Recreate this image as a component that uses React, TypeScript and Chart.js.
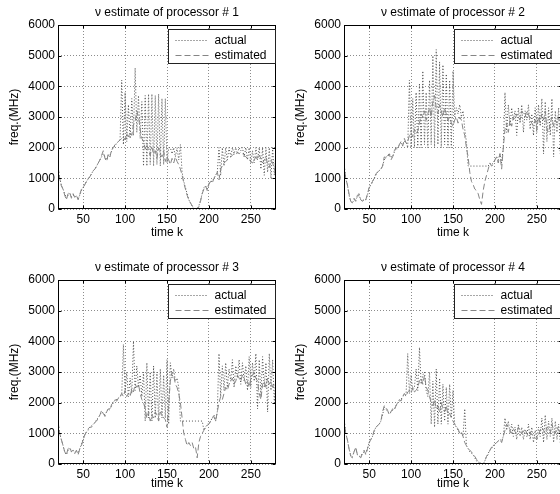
import React, { useEffect, useRef } from "react";
import { Chart, registerables } from "chart.js";

Chart.register(...registerables);

const K = [
  20, 22, 24, 26, 28, 30, 32, 34, 36, 38, 40, 42, 44, 46, 48, 50,
  52, 54, 56, 58, 60, 62, 64, 66, 68, 70, 72, 74, 76, 78, 80, 82,
  84, 86, 88, 90, 92, 94, 96, 98, 100, 102, 104, 106, 108, 110, 112, 114,
  116, 118, 120, 122, 124, 126, 128, 130, 132, 134, 136, 138, 140, 142, 144, 146,
  148, 150, 152, 154, 156, 158, 160, 162, 164, 166, 168, 170, 172, 174, 176, 178,
  180, 182, 184, 186, 188, 190, 192, 194, 196, 198, 200, 202, 204, 206, 208, 210,
  212, 214, 216, 218, 220, 222, 224, 226, 228, 230, 232, 234, 236, 238, 240, 242,
  244, 246, 248, 250, 252, 254, 256, 258, 260, 262, 264, 266, 268, 270, 272, 274,
  276, 278, 280,
];

const X_TICKS = [50, 100, 150, 200, 250];
const Y_TICKS = [0, 1000, 2000, 3000, 4000, 5000, 6000];

const TITLES = [
  "ν estimate of processor # 1",
  "ν estimate of processor # 2",
  "ν estimate of processor # 3",
  "ν estimate of processor # 4",
];
const SERIES_LABELS = ["actual", "estimated"];
const X_LABEL = "time k";
const Y_LABEL = "freq.(MHz)";

const ACTUAL_1 = [
  1400, 1000, 800, 650, 500, 350, 450, 500, 400, 450, 400, 420, 350, 450, 600, 700,
  800, 900, 980, 1050, 1150, 1250, 1300, 1400, 1500, 1600, 1700, 1800, 1700, 1600, 1750, 1750,
  1900, 2000, 2050, 2150, 2200, 2250, 4200, 2100, 3800, 2200, 3400, 2300, 3600, 2400, 4600, 2500,
  3700, 2300, 3500, 1400, 3700, 1400, 3750, 1450, 3750, 1400, 3700, 1450, 3750, 1400, 3600, 1450,
  3600, 1500, 2000, 2000, 1800, 2000, 1700, 2000, 1600, 2100, 1200, 900, 700, 500, 300, 200,
  100, 0, 0, 0, 100, 300, 500, 700, 750, 650, 850, 900, 900, 1000, 1100, 1200,
  2000, 1100, 2000, 1400, 2000, 1600, 2000, 1700, 2000, 1800, 2000, 1800, 2000, 1900, 2000, 1700,
  2000, 1600, 2000, 1500, 1900, 1500, 2000, 1600, 2000, 1300, 2000, 1100, 2000, 1200, 2000, 1000,
  2000, 1100, 1900,
];
const ESTIMATED_1 = [
  1400, 1000, 750, 650, 450, 300, 500, 550, 350, 500, 380, 450, 300, 480, 650, 700,
  800, 900, 1000, 1050, 1150, 1250, 1300, 1400, 1500, 1600, 1750, 1900, 1650, 1550, 1800, 1700,
  1950, 2000, 2100, 2150, 2200, 2250, 2300, 2350, 2250, 2450, 2350, 2500, 2400, 2750, 2850, 3200,
  3000, 2600, 2300, 2200, 1950, 2100, 1900, 1750, 2000, 1800, 1900, 1650, 2000, 1800, 1700, 1900,
  1550, 1700, 1600, 1450, 1650, 1500, 1700, 1550, 1450, 1300, 1100, 850, 650, 450, 300, 200,
  100, 30, 0, 0, 80, 250, 500, 650, 750, 600, 800, 900, 850, 1000, 1100, 1200,
  950, 1300, 1400, 1500, 1550, 1600, 1650, 1700, 1750, 1800, 1750, 1850, 1800, 1850, 1800, 1750,
  1700, 1650, 1600, 1550, 1500, 1600, 1700, 1600, 1750, 1650, 1500, 1600, 1700, 1450, 1350, 1600,
  1500, 1300, 1200,
];

const ACTUAL_2 = [
  1500, 1000, 800, 450, 250, 200, 300, 300, 400, 450, 300, 250, 300, 300, 450, 700,
  800, 900, 1000, 1100, 1200, 1250, 1300, 1400, 1600, 1700, 1700, 1800, 1700, 1700, 1850, 1950,
  2000, 2100, 2150, 2100, 2200, 2200, 2000, 4200, 2000, 3600, 2000, 3800, 2000, 4100, 2000, 4500,
  2100, 3800, 2000, 4200, 2100, 5000, 2000, 5200, 2100, 4800, 2000, 4700, 2100, 4400, 2000, 4200,
  2000, 4500, 3000, 3300, 3100, 3400, 3000, 3200, 2600, 2200, 1400, 1400, 1400, 1400, 1400, 1400,
  1400, 1400, 1400, 1400, 1400, 1400, 1400, 1500, 1450, 1500, 1600, 1700, 1600, 1800, 1500, 2000,
  3800, 2500, 3400, 2700, 3300, 2900, 3200, 2400, 3300, 2800, 3400, 2500, 3200, 2900, 3400, 2600,
  3100, 2400, 3300, 2500, 3400, 2700, 3600, 1800, 3500, 2200, 3300, 2400, 3600, 1700, 3200, 2500,
  3300, 1800, 3000,
];
const ESTIMATED_2 = [
  1500, 1000, 800, 500, 250, 200, 350, 250, 450, 500, 300, 250, 350, 300, 500, 700,
  750, 900, 1000, 1150, 1200, 1250, 1300, 1400, 1700, 1650, 1750, 1800, 1600, 1700, 1900, 2000,
  1950, 2100, 2200, 2050, 2300, 2150, 2200, 2400, 2500, 2350, 2600, 2450, 2550, 2800, 3100, 3000,
  3200, 2900, 3100, 3300, 3000, 3500, 3700, 3300, 3100, 3400, 3200, 3000, 3300, 3100, 2900, 3000,
  2800, 2700, 2900, 3000, 2800, 3000, 2900, 2600, 2400, 2000, 1700, 1200, 900, 800, 650, 600,
  500, 300, 150, 600, 900, 1100, 1300, 1500, 1400, 1450, 1600, 1700, 1500, 1800, 1300, 2000,
  2600, 2800, 2500, 2900, 2700, 3000, 2900, 3100, 3000, 2900, 3200, 3100, 3000, 3200, 3100, 2900,
  2800, 2700, 2900, 2600, 3000, 2800, 3100, 2900, 3200, 2600, 2500, 2800, 3000, 2700, 2900, 2800,
  3000, 2700, 2900,
];

const ACTUAL_3 = [
  1400, 1000, 800, 600, 400, 300, 450, 500, 400, 450, 350, 400, 350, 500, 650, 800,
  950, 1050, 1100, 1200, 1250, 1300, 1350, 1450, 1500, 1600, 1700, 1650, 1600, 1700, 1800, 1800,
  1900, 2000, 2100, 2100, 2150, 2200, 2250, 3900, 2300, 3000, 2200, 2800, 2300, 4000, 2400, 3200,
  2500, 2900, 2200, 3000, 1400, 3300, 1500, 3000, 1400, 3200, 1500, 3000, 1400, 3100, 1500, 2900,
  1500, 3400, 1300, 3300, 2800, 3100, 2700, 2800, 2500, 1400, 1400, 1400, 1400, 1400, 1400, 1400,
  1400, 1400, 1400, 1400, 1400, 1400, 1400, 1100, 1200, 1300, 1300, 1400, 1500, 1600, 1400, 1700,
  3600, 2200, 3200, 2400, 3300, 2500, 3100, 2700, 3400, 2500, 3200, 2800, 3400, 2600, 3300, 2700,
  3200, 2400, 3500, 2500, 3300, 2700, 3600, 1800, 3400, 2200, 3500, 2500, 3300, 1700, 3600, 2400,
  3400, 2000, 3000,
];
const ESTIMATED_3 = [
  1400, 1000, 800, 600, 400, 300, 500, 550, 400, 450, 350, 450, 300, 500, 600, 800,
  950, 1050, 1150, 1200, 1200, 1300, 1350, 1400, 1500, 1600, 1750, 1650, 1550, 1700, 1800, 1750,
  1950, 2000, 2100, 2050, 2150, 2200, 2300, 2200, 2400, 2200, 2300, 2200, 2450, 2350, 2600, 2500,
  2600, 2300, 2100, 2000, 1800, 1500, 1700, 1400, 1600, 1500, 1700, 1600, 1400, 1700, 1600, 1500,
  1450, 1200, 2000, 2700, 3000, 2900, 2600, 2500, 2300, 2000, 1500, 1000, 800, 600, 700, 600,
  700, 500, 550, 200, 700, 900, 1000, 1100, 1200, 1250, 1300, 1400, 1500, 1550, 1400, 1700,
  2000, 2200, 2100, 2300, 2500, 2400, 2600, 2700, 2800, 2600, 2700, 2900, 2800, 2700, 2900, 2800,
  2600, 2700, 2500, 2800, 2900, 3000, 2800, 2700, 2300, 2100, 2600, 2700, 2500, 2800, 2600, 2700,
  2500, 2600, 2500,
];

const ACTUAL_4 = [
  1500, 1000, 800, 500, 300, 250, 400, 500, 300, 250, 250, 350, 400, 350, 500, 700,
  800, 900, 1050, 1200, 1250, 1300, 1400, 1600, 1850, 1800, 1700, 1650, 1700, 1750, 1800, 1900,
  2000, 2050, 2100, 2200, 2250, 2250, 3600, 2300, 2900, 2400, 2500, 3100, 2400, 3800, 2600, 2900,
  3000, 2400, 2200, 3000, 1300, 2700, 1200, 3100, 1300, 2800, 1300, 2600, 1400, 2500, 1300, 2600,
  1500, 2400, 1300, 1200, 1100, 1000, 1000, 900, 1800, 600, 500, 400, 350, 300, 200, 100,
  100, 0, 0, 0, 100, 250, 350, 450, 500, 600, 650, 700, 750, 800, 750, 900,
  1500, 1100, 1400, 1000, 1300, 900, 1200, 800, 1300, 900, 1200, 800, 1100, 900, 1300, 800,
  1200, 700, 1100, 800, 1200, 900, 1500, 700, 1600, 800, 1400, 900, 1500, 700, 1400, 800,
  1300, 700, 1200,
];
const ESTIMATED_4 = [
  1500, 1000, 800, 500, 250, 200, 400, 550, 300, 250, 200, 350, 450, 300, 500, 700,
  800, 900, 1100, 1200, 1250, 1300, 1400, 1700, 1900, 1850, 1750, 1600, 1700, 1800, 1750, 1900,
  2000, 2100, 2050, 2200, 2300, 2200, 2350, 2400, 2300, 2500, 2350, 2400, 2500, 2700, 2800, 2600,
  2900, 2500, 2400, 2200, 2000, 1900, 2100, 1800, 1900, 1700, 2000, 1800, 1700, 1900, 1600, 1650,
  1500, 1400, 1300, 1200, 1150, 1000, 1050, 900, 700, 600, 500, 450, 400, 300, 250, 150,
  100, 50, 0, 0, 100, 250, 300, 450, 550, 600, 650, 700, 750, 800, 700, 900,
  1100, 1300, 1200, 1100, 1000, 1150, 1050, 1000, 1200, 1100, 1000, 1050, 1150, 1000, 900, 1050,
  950, 900, 850, 800, 950, 1100, 1200, 1100, 1000, 1200, 1150, 1000, 1300, 1100, 1000, 1200,
  1100, 1000, 1050,
];

const PANELS = [
  { title: TITLES[0], actual: ACTUAL_1, est: ESTIMATED_1, left: 0, top: 0, xTitlePad: 6.8 },
  { title: TITLES[1], actual: ACTUAL_2, est: ESTIMATED_2, left: 286, top: 0, xTitlePad: 6.8 },
  { title: TITLES[2], actual: ACTUAL_3, est: ESTIMATED_3, left: 0, top: 255, xTitlePad: 10.8 },
  { title: TITLES[3], actual: ACTUAL_4, est: ESTIMATED_4, left: 286, top: 255, xTitlePad: 10.8 },
];

const FONT = "'Liberation Sans', Arial, Helvetica, sans-serif";
const CW = 290;
const CH = 247;

const framePlugin = {
  id: "matlabFrame",
  afterDraw(chart: any) {
    const { ctx, chartArea: a, scales } = chart;
    const L = Math.round(a.left) + 0.5;
    const R = Math.round(a.right) - 0.5;
    const T = Math.round(a.top) + 0.5;
    const B = Math.round(a.bottom) - 0.5;
    ctx.save();
    ctx.setLineDash([]);
    ctx.strokeStyle = "#000";
    ctx.lineWidth = 1;
    ctx.beginPath();
    for (const v of X_TICKS) {
      const px = Math.round(scales.x.getPixelForValue(v)) + 0.5;
      ctx.moveTo(px, B);
      ctx.lineTo(px, B - 3);
      ctx.moveTo(px, T);
      ctx.lineTo(px, T + 3);
    }
    for (const v of Y_TICKS) {
      const py = Math.round(scales.y.getPixelForValue(v)) + 0.5;
      ctx.moveTo(L, py);
      ctx.lineTo(L + 3, py);
      ctx.moveTo(R, py);
      ctx.lineTo(R - 3, py);
    }
    ctx.stroke();
    ctx.strokeRect(L, T, R - L, B - T);

    // legend box
    const bw = 107;
    const bh = 34;
    const bx = Math.round(a.right) - 108 + 0.5;
    const by = Math.round(a.top) + 4 + 0.5;
    ctx.fillStyle = "#fff";
    ctx.fillRect(bx, by, bw, bh);
    ctx.strokeStyle = "#222";
    ctx.strokeRect(bx, by, bw, bh);
    ctx.font = `12px ${FONT}`;
    ctx.textBaseline = "middle";
    ctx.textAlign = "left";
    chart.data.datasets.forEach((ds: any, i: number) => {
      const y = Math.round(by + 10 + 15 * i) + 0.5;
      ctx.strokeStyle = ds.borderColor;
      ctx.setLineDash(ds.borderDash || []);
      ctx.beginPath();
      ctx.moveTo(bx + 7, y);
      ctx.lineTo(bx + 40, y);
      ctx.stroke();
      ctx.setLineDash([]);
      ctx.fillStyle = "#000";
      ctx.fillText(ds.label, bx + 46, y);
    });
    ctx.restore();
  },
};

function Panel(props: any) {
  const ref = useRef<HTMLCanvasElement | null>(null);
  const { title, actual, est, xTitlePad } = props;
  useEffect(() => {
    if (!ref.current) return;
    const font = { family: FONT, size: 12 };
    const chart = new Chart(ref.current, {
      type: "line",
      data: {
        datasets: [
          {
            label: SERIES_LABELS[0],
            data: K.map((k, i) => ({ x: k, y: actual[i] })),
            borderColor: "#4e4e4e",
            borderWidth: 1,
            borderDash: [1, 2],
            pointRadius: 0,
            fill: false,
            tension: 0,
            order: 1,
          },
          {
            label: SERIES_LABELS[1],
            data: K.map((k, i) => ({ x: k, y: est[i] })),
            borderColor: "#858585",
            borderWidth: 1,
            borderDash: [6, 3],
            pointRadius: 0,
            fill: false,
            tension: 0,
            order: 0,
          },
        ],
      },
      options: {
        responsive: false,
        maintainAspectRatio: false,
        animation: false,
        events: [],
        layout: { padding: { left: 0, top: 0, right: CW - 276, bottom: 0 } },
        plugins: {
          legend: { display: false },
          tooltip: { enabled: false },
          title: {
            display: true,
            text: title,
            fullSize: false,
            color: "#000",
            font: { family: FONT, size: 12, weight: "normal" },
            padding: { top: 5, bottom: 5.6 },
          },
        },
        scales: {
          x: {
            type: "linear",
            min: 20,
            max: 280,
            afterBuildTicks: (s: any) => {
              s.ticks = X_TICKS.map((v) => ({ value: v }));
            },
            afterFit: (s: any) => {
              s.height = 38;
            },
            ticks: {
              font,
              color: "#000",
              padding: 3,
              maxRotation: 0,
              autoSkip: false,
              callback: (v: any) => String(v),
            },
            grid: { color: "#8c8c8c", lineWidth: 1, drawTicks: false },
            border: { display: false, dash: [1, 2] },
            title: {
              display: true,
              text: X_LABEL,
              color: "#000",
              font,
              padding: { top: 0, bottom: xTitlePad },
            },
          },
          y: {
            type: "linear",
            min: 0,
            max: 6000,
            afterBuildTicks: (s: any) => {
              s.ticks = Y_TICKS.map((v) => ({ value: v }));
            },
            afterFit: (s: any) => {
              s.width = 58;
            },
            ticks: {
              font,
              color: "#000",
              padding: 3,
              autoSkip: false,
              callback: (v: any) => String(v),
            },
            grid: { color: "#8c8c8c", lineWidth: 1, drawTicks: false },
            border: { display: false, dash: [1, 2] },
            title: {
              display: true,
              text: Y_LABEL,
              color: "#000",
              font,
              padding: { top: 7.8, bottom: 0 },
            },
          },
        },
      },
      plugins: [framePlugin],
    } as any);
    return () => chart.destroy();
  }, [title, actual, est, xTitlePad]);

  return (
    <canvas
      ref={ref}
      width={CW}
      height={CH}
      style={{ position: "absolute", left: props.left, top: props.top, width: CW, height: CH }}
    />
  );
}

export default function App() {
  return (
    <div
      style={{
        position: "fixed",
        left: 0,
        top: 0,
        width: 560,
        height: 494,
        overflow: "hidden",
        background: "#fff",
      }}
    >
      {PANELS.map((p, i) => (
        <Panel key={i} {...p} />
      ))}
    </div>
  );
}
